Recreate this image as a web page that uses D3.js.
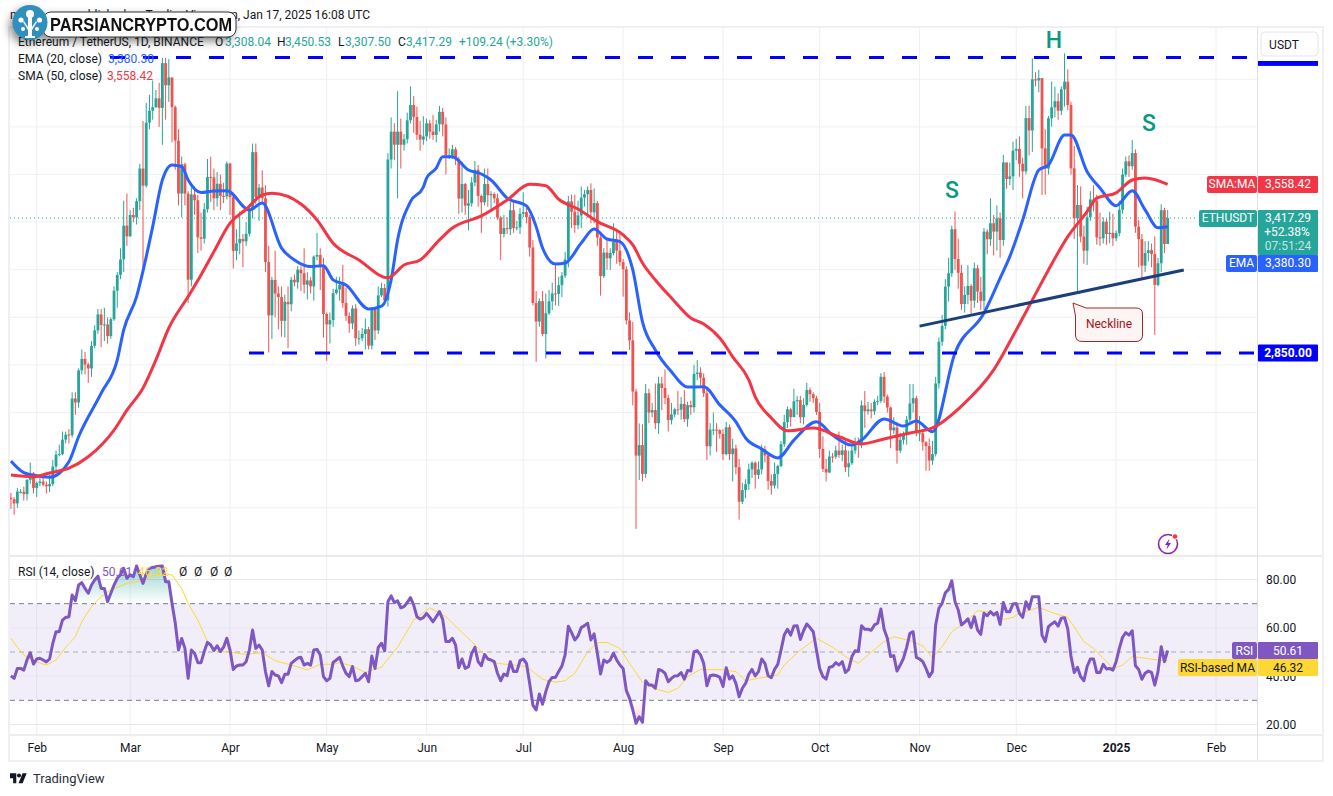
<!DOCTYPE html>
<html>
<head>
<meta charset='utf-8'>
<title>ETHUSDT 1D</title>
<script src='https://d3js.org/d3.v7.min.js'></script>
<style>
  body { margin: 0; background: #fff; }
  svg { display: block; }
  text { font-family: Roboto, sans-serif; font-size: 12px; fill: #131722; }
  .axis path, .axis line { display: none; }
  .axis text { font-family: Roboto, sans-serif; font-size: 12px; fill: #131722; }
  .grid { stroke: #f0f1f5; stroke-width: 1; }
  .vgrid { stroke: #eeeff3; stroke-width: 1; }
</style>
</head>
<body>
<script>
// daily candles, first one is 24 Jan 2024
var firstDay = new Date(Date.UTC(2024, 0, 24));

var opens = [
  2242,2236,2218,2266,2267,2257,2317,2343,
  2283,2304,2310,2297,2290,2299,2373,2423,2425,2486,2507,2505,2659,2642,2777,2825,2802,2785,2880,2945,3012,2968,2970,2921,2992,3112,3178,3243,3385,
  3340,3430,3420,3488,3625,3553,3818,3868,3883,3920,3880,4068,3975,4008,3883,3743,3520,3643,3520,3158,3516,3492,3336,3330,3454,3590,3588,3500,3561,3510,3508,
  3646,3505,3279,3311,3329,3319,3351,3454,3694,3505,3545,3500,3232,3008,3157,3100,3085,2985,3065,3055,3158,3147,3200,3185,3137,3155,3130,3255,3262,3216,
  3014,2970,2988,3102,3117,3136,3060,3006,2974,3037,2912,2912,2930,2950,2881,3037,2945,3092,3123,3071,3663,3780,3725,3780,3725,3748,3828,3892,3842,3767,3747,
  3760,3815,3780,3766,3811,3863,3810,3680,3680,3706,3665,3499,3560,3469,3479,3566,3620,3510,3483,3560,3513,3518,3500,3419,3350,3375,3370,3450,3375,3378,
  3435,3442,3421,3293,3060,2982,3068,2930,3017,3067,3100,3098,3135,3175,3243,3487,3444,3387,3428,3503,3517,3535,3441,3480,3335,3173,3272,3248,3270,3318,3280,
  3232,3202,2987,2903,2688,2419,2463,2342,2681,2600,2610,2555,2722,2703,2661,2568,2592,2613,2612,2636,2572,2631,2622,2762,2768,2746,2681,2458,2528,2528,2526,
  2510,2425,2538,2425,2449,2370,2225,2274,2299,2361,2389,2338,2361,2445,2420,2312,2293,2342,2375,2467,2560,2613,2580,2647,2652,2580,2632,2695,2677,2660,
  2602,2447,2363,2348,2415,2414,2440,2422,2441,2370,2387,2440,2475,2465,2630,2605,2613,2605,2645,2648,2750,2667,2621,2525,2537,2440,2485,2507,2570,2638,2660,
  2513,2513,2475,2459,2398,2425,2722,2897,2964,3129,3185,3370,3245,3187,3056,3094,3132,3070,3206,3108,3069,3360,3328,3395,3360,3416,3325,3651,3581,3592,
  3700,3708,3645,3613,3837,3785,4000,3995,4005,3710,3625,3836,3882,3908,3868,3958,3990,3892,3626,3416,3472,3339,3280,3420,3495,3490,3336,3332,3402,3350,3355,
  3332,3354,3452,3600,3655,3635,3690,3381,3328,3217,3270,3282,3266,3136,3227,3450,3308.04
];
var highs = [
  2262,2245,2282,2278,2288,2320,2390,2350,
  2310,2325,2325,2310,2340,2400,2440,2465,2520,2520,2530,2685,2685,2785,2865,2855,2810,2900,2967,3035,3035,3040,3000,3000,3130,3190,3290,3490,3520,
  3450,3460,3500,3645,3825,3900,3935,3995,3955,3985,4090,4090,4085,4005,3890,3790,3675,3650,3530,3545,3550,3515,3440,3480,3665,3675,3625,3610,3600,3565,3655,
  3650,3510,3370,3445,3350,3400,3465,3730,3730,3560,3618,3555,3300,3170,3280,3130,3130,3095,3130,3170,3180,3215,3215,3290,3190,3170,3260,3355,3290,3250,
  3020,3020,3120,3170,3170,3220,3125,3020,3050,3055,2945,2955,2995,2960,3040,3040,3130,3145,3140,3690,3840,3815,3950,3835,3770,3860,3970,3930,3885,3825,3845,
  3835,3830,3850,3830,3888,3880,3840,3710,3725,3715,3675,3655,3565,3535,3590,3657,3640,3515,3625,3625,3530,3525,3520,3425,3430,3420,3485,3490,3405,3460,
  3525,3465,3430,3325,3110,3080,3110,3100,3115,3145,3220,3170,3190,3275,3510,3515,3515,3490,3550,3535,3550,3563,3542,3489,3345,3290,3330,3290,3395,3365,3350,
  3245,3215,3020,2980,2700,2554,2550,2720,2700,2640,2722,2750,2750,2781,2675,2640,2620,2690,2665,2694,2645,2650,2800,2820,2790,2765,2705,2555,2600,2555,2530,
  2530,2560,2550,2490,2465,2405,2305,2320,2385,2395,2395,2395,2465,2460,2425,2340,2390,2380,2480,2590,2625,2620,2700,2670,2670,2660,2725,2705,2685,2670,
  2640,2500,2405,2440,2430,2460,2520,2465,2480,2440,2470,2495,2495,2650,2690,2645,2640,2655,2670,2765,2770,2675,2625,2580,2560,2515,2520,2585,2720,2720,2670,
  2585,2520,2480,2490,2480,2750,2915,3010,3160,3250,3385,3445,3330,3220,3130,3220,3140,3230,3220,3170,3375,3370,3500,3430,3470,3440,3682,3640,3650,3738,
  3750,3760,3670,3888,3890,4088,4030,4040,4005,3790,3846,3990,3969,3941,3970,4109,4042,3905,3720,3556,3550,3385,3465,3530,3555,3515,3440,3420,3415,3444,3435,
  3365,3490,3625,3675,3680,3745,3705,3410,3350,3320,3320,3310,3340,3250,3475,3460,3450.53
];
var lows = [
  2195,2170,2200,2260,2230,2230,2300,2260,
  2245,2290,2290,2260,2265,2290,2350,2415,2420,2470,2470,2495,2590,2620,2760,2760,2725,2750,2870,2930,2875,2900,2890,2910,2985,3040,3160,3190,3300,
  3340,3400,3390,3450,3210,3545,3790,3830,3880,3800,3725,3830,3905,3735,3620,3470,3420,3470,3060,3130,3430,3270,3280,3310,3440,3485,3450,3465,3450,3480,3495,
  3430,3205,3240,3265,3210,3300,3340,3415,3475,3405,3480,3190,2852,2909,3000,2950,2918,2915,2870,3025,3130,3120,3110,3100,3075,3100,3070,3240,3115,2915,
  2817,2890,2960,3095,3070,3040,2985,2935,2950,2880,2885,2900,2865,2865,2865,2905,2930,3085,3050,3045,3625,3660,3500,3625,3700,3730,3815,3775,3745,3700,3725,
  3740,3750,3745,3735,3780,3760,3600,3665,3665,3640,3435,3440,3430,3365,3465,3550,3465,3355,3470,3465,3445,3480,3410,3240,3335,3350,3345,3355,3365,3350,
  3420,3395,3255,3050,2813,2960,2920,2827,3010,3030,3050,3048,3085,3165,3210,3375,3355,3370,3375,3465,3420,3395,3395,3300,3091,3165,3200,3199,3260,3225,3215,
  3087,2970,2863,2630,2111,2316,2310,2325,2555,2580,2530,2510,2610,2635,2520,2550,2580,2590,2570,2560,2540,2590,2600,2735,2715,2665,2400,2420,2505,2435,2490,
  2400,2420,2400,2310,2340,2150,2215,2240,2275,2325,2280,2320,2340,2390,2275,2255,2280,2280,2370,2455,2535,2540,2590,2590,2555,2550,2625,2645,2640,2590,
  2410,2350,2310,2345,2390,2405,2410,2395,2350,2330,2380,2425,2410,2450,2535,2590,2575,2590,2630,2640,2640,2600,2450,2510,2385,2430,2465,2465,2555,2600,2500,
  2480,2440,2355,2355,2380,2415,2700,2880,2950,3066,3170,3200,3120,3031,3020,3055,3015,3040,3060,3030,3030,3265,3300,3260,3280,3250,3300,3540,3555,3535,
  3660,3590,3500,3600,3680,3695,3970,3945,3514,3515,3600,3801,3840,3830,3850,3885,3870,3600,3330,3101,3315,3225,3220,3405,3445,3305,3300,3310,3305,3311,3300,
  3320,3340,3435,3590,3590,3620,3355,3210,3160,3190,3235,3210,2926,3130,3190,3270,3307.5
];
var closes = [
  2236,2218,2268,2267,2257,2317,2343,2283,
  2304,2310,2297,2290,2299,2373,2423,2425,2486,2507,2505,2659,2642,2777,2825,2802,2785,2880,2945,3012,2968,2970,2921,2992,3112,3178,3243,3385,3340,
  3430,3420,3488,3625,3553,3818,3868,3883,3920,3880,4068,3975,4008,3883,3743,3520,3643,3520,3158,3516,3492,3336,3330,3454,3590,3588,3500,3561,3510,3508,3646,
  3505,3279,3311,3329,3319,3351,3454,3694,3505,3545,3500,3232,3008,3157,3100,3085,2985,3065,3055,3158,3147,3200,3185,3137,3155,3130,3255,3262,3216,3014,
  2970,2988,3102,3117,3136,3060,3006,2974,3037,2912,2912,2930,2950,2881,3037,2945,3092,3123,3071,3663,3780,3725,3780,3725,3748,3828,3892,3842,3767,3747,3760,
  3815,3780,3766,3811,3863,3810,3680,3680,3706,3665,3499,3560,3469,3479,3566,3620,3510,3483,3560,3513,3518,3500,3419,3350,3375,3370,3450,3375,3378,3435,
  3442,3421,3293,3060,2982,3068,2930,3017,3067,3100,3098,3135,3175,3243,3487,3444,3387,3428,3503,3517,3535,3441,3480,3335,3173,3272,3248,3270,3318,3280,3232,
  3202,2987,2903,2688,2419,2463,2342,2681,2600,2610,2555,2722,2703,2661,2568,2592,2613,2612,2636,2572,2631,2622,2762,2768,2746,2681,2458,2528,2528,2526,2510,
  2425,2538,2425,2449,2370,2225,2274,2299,2361,2389,2338,2361,2445,2420,2312,2293,2342,2375,2467,2560,2613,2580,2647,2652,2580,2632,2695,2677,2660,2602,
  2447,2363,2348,2415,2414,2440,2422,2441,2370,2387,2440,2475,2465,2630,2605,2613,2605,2645,2648,2750,2667,2621,2525,2537,2440,2485,2507,2570,2638,2660,2513,
  2513,2475,2459,2398,2425,2722,2897,2964,3129,3185,3370,3245,3187,3056,3094,3132,3070,3206,3108,3069,3360,3328,3395,3360,3416,3325,3651,3581,3592,3700,
  3708,3645,3613,3837,3785,4000,3995,4005,3710,3625,3836,3882,3908,3868,3958,3990,3892,3626,3416,3472,3339,3280,3420,3495,3490,3336,3332,3402,3350,3355,3332,
  3354,3452,3600,3655,3635,3690,3381,3328,3217,3270,3282,3266,3136,3227,3450,3308,3417.29
];

// moving averages, read at the points where they bend: [day number, price]
var ema20 = [[0,2396],[4,2347],[7,2337],[12,2328],[18,2393],[21,2498],[28,2681],[33,2821],[35,2947],[39,3087],[41,3195],[44,3381],[47,3577],[50,3640],[53,3633],[55,3577],[59,3524],[63,3531],[67,3532],[74,3451],[78,3480],[84,3291],[88,3241],[93,3213],[97,3217],[100,3157],[104,3136],[111,3035],[115,3047],[118,3157],[120,3325],[124,3486],[128,3547],[129,3585],[132,3627],[134,3675],[137,3675],[142,3619],[146,3602],[149,3577],[154,3501],[160,3468],[163,3381],[165,3291],[169,3224],[172,3228],[177,3312],[181,3371],[185,3329],[189,3318],[193,3199],[196,2981],[200,2863],[205,2771],[210,2707],[215,2708],[220,2632],[225,2561],[228,2493],[233,2447],[238,2409],[243,2484],[250,2561],[255,2505],[261,2463],[264,2484],[271,2573],[277,2543],[281,2564],[286,2519],[293,2850],[302,3018],[307,3165],[310,3255],[314,3409],[319,3619],[322,3640],[327,3766],[329,3766],[334,3612],[338,3543],[343,3469],[348,3532],[352,3451],[356,3376],[359,3380.3]];
var sma50 = [[0,2337],[7,2330],[12,2346],[18,2366],[24,2414],[32,2526],[36,2610],[41,2703],[45,2821],[49,2955],[55,3087],[59,3178],[63,3276],[68,3396],[73,3454],[78,3514],[81,3521],[90,3476],[95,3409],[100,3311],[108,3241],[117,3166],[122,3220],[127,3241],[133,3325],[137,3375],[146,3426],[154,3493],[161,3559],[166,3553],[170,3496],[176,3455],[182,3402],[190,3346],[193,3304],[196,3228],[200,3157],[205,3081],[211,2997],[215,2972],[220,2913],[224,2834],[229,2737],[231,2666],[236,2577],[241,2523],[249,2535],[257,2498],[264,2468],[271,2489],[279,2514],[286,2535],[295,2627],[305,2779],[312,2947],[317,3073],[322,3199],[328,3339],[334,3444],[337,3501],[343,3523],[348,3577],[352,3585],[359,3558.42]];

// RSI, one value per candle
var rsi = [
  40.1,39.1,43.2,43.2,42.5,46.7,49.7,45,47.1,47.4,46.7,45.9,47.1,53.6,58.4,58.4,63.2,64.3,64.6,73.6,
  71.2,77.7,78.7,76.3,74.3,77.7,79.8,81.4,76.3,76.3,70.8,74.3,77.7,80.5,82,84.6,80.5,81.9,81.2,85.6,
  82,78.4,82.5,84.6,85,85.3,85.5,85.6,79.1,79.1,70.1,62,50.8,55.6,51.5,39.1,50.8,49.5,45.6,45.6,
  50.2,54,52.9,50.6,52.6,50.2,52,55.7,50.8,42.8,44.2,44.6,44.6,46,50.8,59.1,51.5,52.9,50.8,41.9,
  36,41.9,40.5,40.1,37.3,40.8,40.8,45.3,46.4,47.5,47.8,44.6,45.3,44.5,50.8,51.1,48.8,39.8,38.1,39.1,
  45.7,46.7,47.8,44.2,41.2,39.8,44,38.1,38.4,39.8,41.2,37.7,48.3,43.2,51.9,53.6,50.5,70.8,73.2,70.4,
  71.2,68.3,68.8,70.5,72.5,69.4,64.6,63.6,64.2,66,64.3,62.5,64.6,66.7,63.5,54.3,54.3,55.7,52.9,43.5,
  47.1,43.2,43.9,49.4,51.9,46,44.3,49,47.1,46.7,46,41.2,38.1,40.9,40.2,46,41.9,41.9,46.4,47.1,
  45.3,37,28,26,32.6,28.4,33.6,37.7,39.5,39.5,41.9,44.2,48.8,60.7,58,55,56.6,60.1,60.9,61.9,
  55,57.5,49.5,40.9,46.7,45.7,46.7,49.5,46.7,44.6,43.2,34,30.8,26,20.5,23.2,20.9,38.1,36.3,36.3,
  35,42.8,42.3,41.2,37.7,39.1,40.1,40.2,41.5,38.8,42.3,42.1,50.1,50.5,48.8,45.3,36,40.2,40.5,40.2,
  39.5,35.7,43.5,38.8,40.1,37,31.5,35,37,40.8,42.8,40.1,41.9,47.1,45.3,40.2,39.4,42.8,44.9,50.8,
  57,59.4,57,60.8,60.9,55.2,58.8,61.6,60.1,58.4,50.8,43.2,39.8,38.8,43.7,44,45.6,44.6,46,41.5,
  42.8,48.1,50.5,50.2,60.9,59.4,59.4,59,61.2,61.9,67.8,59.4,55.7,48.1,48.5,42.1,44.6,47.4,51.9,57.7,
  58.4,47.8,47.1,46,43.2,39.8,41.9,61.2,68.1,70.1,74.5,75.9,79.5,70.8,67.4,61.2,62.3,63.7,60.1,64.6,
  59.1,57.3,66,65,66.7,65.3,66.4,61.4,70.5,66.7,66.7,69.9,70.1,66,64.3,70.8,67.8,72.9,72.9,72.9,
  57,54.3,60.5,61.6,62.5,60.7,64,64.2,59.5,48.1,41.5,43.7,39.8,38.1,44,47.1,47.1,41.5,41.5,44.9,
  43,43.2,42.5,46,51.5,56.1,58,57,58.8,44.3,42.8,38.7,41.2,42.1,41.6,36.3,41.9,52.2,46,50.61
];
var rsiMa = [[0,55.7],[2,52],[4,48.8],[7,46.4],[11,44.6],[14,46.7],[17,52],[20,56.3],[22,62.5],[25,68.8],[28,72.9],[31,75.7],[36,78.4],[41,79.5],[44,81.4],[47,82.5],[50,81.9],[53,76.3],[55,70.1],[58,63.2],[61,54.3],[64,50.1],[67,50.1],[73,49],[78,49.7],[82,46.4],[87,44.6],[92,42.6],[96,44.9],[100,44.9],[102,45.6],[106,44.2],[110,41.5],[115,43.7],[120,52],[125,63.2],[130,68.3],[135,64.6],[139,59.4],[143,54.3],[147,48.8],[151,45.3],[156,44.6],[160,44],[165,38.7],[169,37.5],[172,38.1],[175,41.2],[179,50.1],[182,53.9],[185,54],[189,51.5],[192,45.3],[196,37.5],[200,34.7],[204,33.3],[207,35],[210,39.8],[214,42.8],[221,42.6],[225,41.9],[228,38.1],[232,39.1],[238,40.5],[240,44.6],[245,50.8],[250,55.7],[255,52],[259,48.1],[263,45.3],[266,48.8],[271,54.3],[274,56.3],[279,54.7],[283,52.5],[286,47.6],[289,52.2],[292,58.4],[297,63.2],[300,67.1],[304,66.4],[308,63.5],[311,64.3],[313,66],[319,68.5],[323,66.4],[328,64.3],[333,54.3],[336,51.5],[342,43.2],[345,44.6],[348,48.1],[356,46.7],[359,46.32]];

var priceTicks = [2000,2200,2400,2600,2800,3000,3200,3400,3600,3800,4000];
var rsiTicks = [20,40,60,80];
var monthTicks = [[2024,1],[2024,2],[2024,3],[2024,4],[2024,5],[2024,6],[2024,7],[2024,8],[2024,9],[2024,10],[2024,11],[2025,0],[2025,1]];

// horizontal levels and the neckline the analyst drew
var resistance = 4092, support = 2850;
var neckline = [[282,2963],[364,3199]];

var width = 1333, height = 796;
var paneLeft = 10, axisX = 1258, paneRight = 1322;
var priceTop = 28, priceBottom = 556, rsiBottom = 735, frameBottom = 760;

var blue = '#2962ff', red = '#f23645', teal = '#26a69a', candleRed = '#ef5350', purple = '#7e57c2', yellow = '#fdd835';

var x = d3.scaleUtc()
  .domain([new Date(Date.UTC(2024, 1, 1)), new Date(Date.UTC(2025, 1, 1))])
  .range([36.7, 1216]);
var y = d3.scaleLinear().domain([2000, 4000]).range([555.3, 79.3]);
var yRsi = d3.scaleLinear().domain([20, 80]).range([724.5, 579.5]);

function dayDate(i) { return d3.utcDay.offset(firstDay, i); }
function dayX(i) { return x(dayDate(i)); }

var svg = d3.select('body').append('svg').attr('width', width).attr('height', height);
var defs = svg.append('defs');

defs.append('clipPath').attr('id', 'clip-price').append('rect')
  .attr('x', paneLeft).attr('y', priceTop).attr('width', axisX - paneLeft).attr('height', priceBottom - priceTop);
defs.append('clipPath').attr('id', 'clip-price-axis').append('rect')
  .attr('x', axisX).attr('y', priceTop).attr('width', paneRight - axisX).attr('height', priceBottom - priceTop);
defs.append('clipPath').attr('id', 'clip-ob').append('rect')
  .attr('x', paneLeft).attr('y', priceBottom).attr('width', axisX - paneLeft).attr('height', yRsi(70) - priceBottom);
defs.append('clipPath').attr('id', 'clip-os').append('rect')
  .attr('x', paneLeft).attr('y', yRsi(30)).attr('width', axisX - paneLeft).attr('height', rsiBottom - yRsi(30));

var obGrad = defs.append('linearGradient').attr('id', 'ob-grad').attr('gradientUnits', 'userSpaceOnUse')
  .attr('x1', 0).attr('x2', 0).attr('y1', yRsi(85)).attr('y2', yRsi(70));
obGrad.append('stop').attr('offset', 0).attr('stop-color', teal).attr('stop-opacity', 0.45);
obGrad.append('stop').attr('offset', 1).attr('stop-color', teal).attr('stop-opacity', 0);
var osGrad = defs.append('linearGradient').attr('id', 'os-grad').attr('gradientUnits', 'userSpaceOnUse')
  .attr('x1', 0).attr('x2', 0).attr('y1', yRsi(30)).attr('y2', yRsi(20));
osGrad.append('stop').attr('offset', 0).attr('stop-color', candleRed).attr('stop-opacity', 0);
osGrad.append('stop').attr('offset', 1).attr('stop-color', candleRed).attr('stop-opacity', 0.3);

// frame
svg.append('rect').attr('x', 9).attr('y', 27).attr('width', 1314).attr('height', 734)
  .attr('fill', '#fff').attr('stroke', '#eff0f5').attr('stroke-width', 2);

// grid
var months = monthTicks.map(function(d) { return new Date(Date.UTC(d[0], d[1], 1)); });
svg.append('g').selectAll('line').data(months).enter().append('line')
  .attr('class', 'vgrid')
  .attr('x1', function(d) { return x(d); }).attr('x2', function(d) { return x(d); })
  .attr('y1', priceTop).attr('y2', rsiBottom);
svg.append('g').selectAll('line').data(priceTicks).enter().append('line')
  .attr('class', 'grid')
  .attr('x1', paneLeft).attr('x2', axisX)
  .attr('y1', function(d) { return y(d); }).attr('y2', function(d) { return y(d); });

// rsi pane background
svg.append('rect').attr('x', paneLeft).attr('width', axisX - paneLeft)
  .attr('y', yRsi(70)).attr('height', yRsi(30) - yRsi(70))
  .attr('fill', purple).attr('fill-opacity', 0.1);
svg.append('g').selectAll('line').data(rsiTicks).enter().append('line')
  .attr('class', 'grid')
  .attr('x1', paneLeft).attr('x2', axisX)
  .attr('y1', function(d) { return yRsi(d); }).attr('y2', function(d) { return yRsi(d); })
  .style('stroke', '#e6e5ee');
[70, 50, 30].forEach(function(v) {
  svg.append('line').attr('x1', paneLeft).attr('x2', axisX)
    .attr('y1', yRsi(v)).attr('y2', yRsi(v))
    .attr('stroke', '#787b86').attr('stroke-opacity', v === 50 ? 0.6 : 1)
    .attr('stroke-dasharray', '5,4');
});

// price pane
var price = svg.append('g').attr('clip-path', 'url(#clip-price)');

price.append('line').attr('x1', paneLeft).attr('x2', 1198)
  .attr('y1', y(3417.29)).attr('y2', y(3417.29))
  .attr('stroke', teal).attr('stroke-dasharray', '1,3');

var candles = price.selectAll('.candle').data(d3.range(closes.length)).enter().append('g').attr('class', 'candle');
function candleColor(i) { return closes[i] >= opens[i] ? teal : candleRed; }
candles.append('line')
  .attr('x1', dayX).attr('x2', dayX)
  .attr('y1', function(i) { return y(highs[i]); })
  .attr('y2', function(i) { return y(lows[i]); })
  .attr('stroke', candleColor).attr('stroke-width', 1);
candles.append('rect')
  .attr('x', function(i) { return dayX(i) - 1.4; })
  .attr('width', 2.8)
  .attr('y', function(i) { return y(Math.max(opens[i], closes[i])); })
  .attr('height', function(i) { return Math.max(1, Math.abs(y(opens[i]) - y(closes[i]))); })
  .attr('fill', candleColor);

var priceLine = d3.line()
  .x(function(d) { return dayX(d[0]); })
  .y(function(d) { return y(d[1]); })
  .curve(d3.curveMonotoneX);
price.append('path').attr('d', priceLine(ema20)).attr('fill', 'none').attr('stroke', blue).attr('stroke-width', 3);
price.append('path').attr('d', priceLine(sma50)).attr('fill', 'none').attr('stroke', red).attr('stroke-width', 3);

// drawn levels
function dashedLevel(level, x1, x2) {
  svg.append('line').attr('x1', x1).attr('x2', x2)
    .attr('y1', y(level)).attr('y2', y(level))
    .attr('stroke', '#0000ff').attr('stroke-width', 3).attr('stroke-dasharray', '15,18');
}
dashedLevel(resistance, 110, 1247);
dashedLevel(support, 249, 1254);

svg.append('line')
  .attr('x1', dayX(neckline[0][0])).attr('y1', y(neckline[0][1]))
  .attr('x2', dayX(neckline[1][0])).attr('y2', y(neckline[1][1]))
  .attr('stroke', '#1b3f7d').attr('stroke-width', 3);

function pattern(label, px, py) {
  svg.append('text').attr('x', px).attr('y', py).attr('text-anchor', 'middle').attr('dominant-baseline', 'central')
    .style('font-size', '23px').style('font-weight', 500).style('fill', '#089981').text(label);
}
pattern('S', 952, 190);
pattern('H', 1054, 40);
pattern('S', 1149, 123);

// neckline callout
svg.append('path')
  .attr('d', 'M1073,303 L1086,308 H1136 Q1142.5,308 1142.5,314 V335 Q1142.5,341.5 1136,341.5 H1082 Q1075.5,341.5 1075.5,335 V316 Z')
  .attr('fill', '#fdf4f4').attr('stroke', '#a3262a').attr('stroke-width', 1);
svg.append('text').attr('x', 1109).attr('y', 323.5).attr('text-anchor', 'middle').attr('dominant-baseline', 'central')
  .style('fill', '#a31515').text('Neckline');

// rsi
var rsiPoints = rsi.map(function(v, i) { return [i, v]; });
var rsiArea = d3.area()
  .x(function(d) { return dayX(d[0]); })
  .y0(function(d) { return yRsi(d[1]); });
svg.append('path').attr('clip-path', 'url(#clip-ob)')
  .attr('d', rsiArea.y1(yRsi(70))(rsiPoints)).attr('fill', 'url(#ob-grad)');
svg.append('path').attr('clip-path', 'url(#clip-os)')
  .attr('d', rsiArea.y1(yRsi(30))(rsiPoints)).attr('fill', 'url(#os-grad)');

var rsiLine = d3.line()
  .x(function(d) { return dayX(d[0]); })
  .y(function(d) { return yRsi(d[1]); });
svg.append('path').attr('d', rsiLine(rsiMa)).attr('fill', 'none').attr('stroke', yellow).attr('stroke-width', 1);
svg.append('path').attr('d', rsiLine(rsiPoints)).attr('fill', 'none').attr('stroke', purple).attr('stroke-width', 3)
  .attr('stroke-linejoin', 'round');

// pane separators and axis line
svg.append('line').attr('x1', paneLeft).attr('x2', paneRight).attr('y1', priceBottom).attr('y2', priceBottom)
  .attr('stroke', '#e6e7ee').attr('stroke-width', 1.5);
svg.append('line').attr('x1', paneLeft).attr('x2', paneRight).attr('y1', rsiBottom).attr('y2', rsiBottom)
  .attr('stroke', '#e6e7ee').attr('stroke-width', 1.5);
svg.append('line').attr('x1', axisX - 0.5).attr('x2', axisX - 0.5).attr('y1', priceTop).attr('y2', frameBottom)
  .attr('stroke', '#dfe1e8');

// axes
svg.append('g').attr('class', 'axis').attr('clip-path', 'url(#clip-price-axis)')
  .attr('transform', 'translate(' + axisX + ',0)')
  .call(d3.axisRight(y).tickValues(priceTicks).tickFormat(d3.format(',.2f')).tickSize(0).tickPadding(8));
svg.append('g').attr('class', 'axis')
  .attr('transform', 'translate(' + axisX + ',0)')
  .call(d3.axisRight(yRsi).tickValues(rsiTicks).tickFormat(d3.format('.2f')).tickSize(0).tickPadding(8));
var timeAxis = svg.append('g').attr('class', 'axis')
  .attr('transform', 'translate(0,' + rsiBottom + ')')
  .call(d3.axisBottom(x).tickValues(months)
    .tickFormat(function(d) { return d.getUTCMonth() === 0 ? d.getUTCFullYear() : d3.utcFormat('%b')(d); })
    .tickSize(0).tickPadding(8));
timeAxis.selectAll('text').style('font-weight', function(d) { return d.getUTCMonth() === 0 ? 700 : 400; });

// price scale labels
function tag(x1, x2, cy, h, fill, label, color) {
  svg.append('rect').attr('x', x1).attr('y', cy - h / 2).attr('width', x2 - x1).attr('height', h)
    .attr('rx', x2 === axisX - 1 ? 2 : 1).attr('fill', fill);
  svg.append('text').attr('x', (x1 + x2) / 2).attr('y', cy).attr('text-anchor', 'middle').attr('dominant-baseline', 'central')
    .style('fill', color).text(label);
}
function valueTag(cy, fill, label, color) { tag(axisX, 1318, cy, 17, fill, label, color); }

tag(1207, axisX - 1, y(3558.42), 17, red, 'SMA:MA', '#fff');
valueTag(y(3558.42), red, '3,558.42', '#fff');

tag(1199, axisX - 1, 218.4, 17, teal, 'ETHUSDT', '#fff');
svg.append('rect').attr('x', axisX).attr('y', 210).attr('width', 60).attr('height', 45).attr('rx', 1).attr('fill', teal);
svg.append('text').attr('x', 1288).attr('y', 218).attr('text-anchor', 'middle').attr('dominant-baseline', 'central').style('fill', '#fff').text('3,417.29');
svg.append('text').attr('x', 1287).attr('y', 232).attr('text-anchor', 'middle').attr('dominant-baseline', 'central').style('fill', '#fff').text('+52.38%');
svg.append('text').attr('x', 1288).attr('y', 246).attr('text-anchor', 'middle').attr('dominant-baseline', 'central').style('fill', '#c4e5e1').text('07:51:24');

tag(1226, axisX - 1, 263.4, 17, blue, 'EMA', '#fff');
valueTag(263.4, blue, '3,380.30', '#fff');

svg.append('rect').attr('x', axisX).attr('y', y(support) - 8.5).attr('width', 60).attr('height', 17).attr('rx', 1).attr('fill', '#0000ff');
svg.append('text').attr('x', 1288).attr('y', y(support)).attr('text-anchor', 'middle').attr('dominant-baseline', 'central')
  .style('fill', '#fff').style('font-weight', 700).text('2,850.00');

tag(1232, axisX - 1, 650.5, 17, purple, 'RSI', '#fff');
valueTag(650.5, purple, '50.61', '#fff');
tag(1178, axisX - 1, 667.5, 17, yellow, 'RSI-based MA', '#131722');
valueTag(667.5, yellow, '46.32', '#131722');

// the top level's label sits mostly behind the USDT button
svg.append('rect').attr('x', axisX).attr('y', y(resistance) - 8.5).attr('width', 60).attr('height', 17).attr('fill', '#0000ff');
svg.append('rect').attr('x', axisX).attr('y', priceTop).attr('width', 62).attr('height', 33).attr('fill', '#fff');
svg.append('rect').attr('x', 1261).attr('y', 32).attr('width', 57).attr('height', 24).attr('rx', 4)
  .attr('fill', '#fff').attr('stroke', '#e3e5ec');
svg.append('text').attr('x', 1284).attr('y', 44.5).attr('text-anchor', 'middle').attr('dominant-baseline', 'central').text('USDT');

// legends
function legendRow(yPos, parts) {
  var t = svg.append('text').attr('y', yPos).attr('dominant-baseline', 'central');
  parts.forEach(function(p) {
    t.append('tspan').attr('x', p[0]).style('fill', p[2] || '#131722').text(p[1]);
  });
}
legendRow(42, [
  [18, 'Ethereum / TetherUS, 1D, BINANCE'],
  [215, 'O'], [225, '3,308.04', teal],
  [277, 'H'], [285, '3,450.53', teal],
  [338, 'L'], [345, '3,307.50', teal],
  [398, 'C'], [406, '3,417.29', teal],
  [459, '+109.24 (+3.30%)', teal]
]);
legendRow(59, [[18, 'EMA (20, close)'], [108, '3,380.30', blue]]);
legendRow(76, [[18, 'SMA (50, close)'], [107, '3,558.42', red]]);
legendRow(572, [
  [18, 'RSI (14, close)'], [102, '50.61', purple], [138, '46.32', yellow],
  [179, 'Ø'], [194, 'Ø'], [210, 'Ø'], [224, 'Ø']
]);

// byline
svg.append('text').attr('x', 10).attr('y', 15).attr('dominant-baseline', 'central').text('m');
svg.append('text').attr('x', 370).attr('y', 15).attr('text-anchor', 'end').attr('dominant-baseline', 'central')
  .text('published on TradingView.com, Jan 17, 2025 16:08 UTC');

// bolt icon
var bolt = svg.append('g').attr('transform', 'translate(1168,544)');
bolt.append('circle').attr('r', 9.5).attr('fill', '#fff').attr('stroke', '#8e24aa').attr('stroke-width', 1.6);
bolt.append('path').attr('d', 'M1.5,-5.5 L-3,1 H-0.3 L-1.5,5.5 L3,-1 H0.3 Z').attr('fill', '#8e24aa');
bolt.append('circle').attr('cx', 7).attr('cy', -7.5).attr('r', 2.8).attr('fill', red).attr('stroke', '#fff');

// tradingview mark
var tv = svg.append('g').attr('transform', 'translate(10,771.5) scale(0.45)').attr('fill', '#131722');
tv.append('path').attr('d', 'M14 26H7V15H0V4h14v22zM28 26h-9l9-22h9l-9 22z');
tv.append('circle').attr('cx', 20).attr('cy', 9).attr('r', 4.5);
svg.append('text').attr('x', 33).attr('y', 778).attr('dominant-baseline', 'central')
  .style('font-size', '13px').style('fill', '#2a2e39').text('TradingView');

// watermark on top of everything
var mark = svg.append('g').style('filter', 'drop-shadow(-3px 4px 4px rgba(0,0,0,0.45))');
mark.append('rect').attr('x', 43).attr('y', 12).attr('width', 193).attr('height', 25).attr('rx', 8)
  .attr('fill', '#fff').attr('stroke', '#333').attr('stroke-width', 1);
mark.append('circle').attr('cx', 30).attr('cy', 22.5).attr('r', 17.5).attr('fill', '#2f8fbd');
var tree = mark.append('g').attr('fill', '#fff');
[[30, 14, 4], [21, 20, 2.6], [39.5, 20, 2.6], [23, 29, 2], [37, 29, 2]].forEach(function(c) {
  tree.append('circle').attr('cx', c[0]).attr('cy', c[1]).attr('r', c[2]);
});
tree.append('path').attr('d', 'M28,17 h4 v10 l4,-6 1,1 -5,8 v6 h3 v2 h-10 v-2 h3 v-6 l-5,-8 1,-1 4,6 z');
mark.append('text').attr('x', 50).attr('y', 25).attr('dominant-baseline', 'central')
  .attr('textLength', 182).attr('lengthAdjust', 'spacingAndGlyphs')
  .style('font-family', '"Liberation Sans", Arial, sans-serif').style('font-size', '18px').style('font-weight', 700).style('fill', '#111')
  .text('PARSIANCRYPTO.COM');
</script>
</body>
</html>
